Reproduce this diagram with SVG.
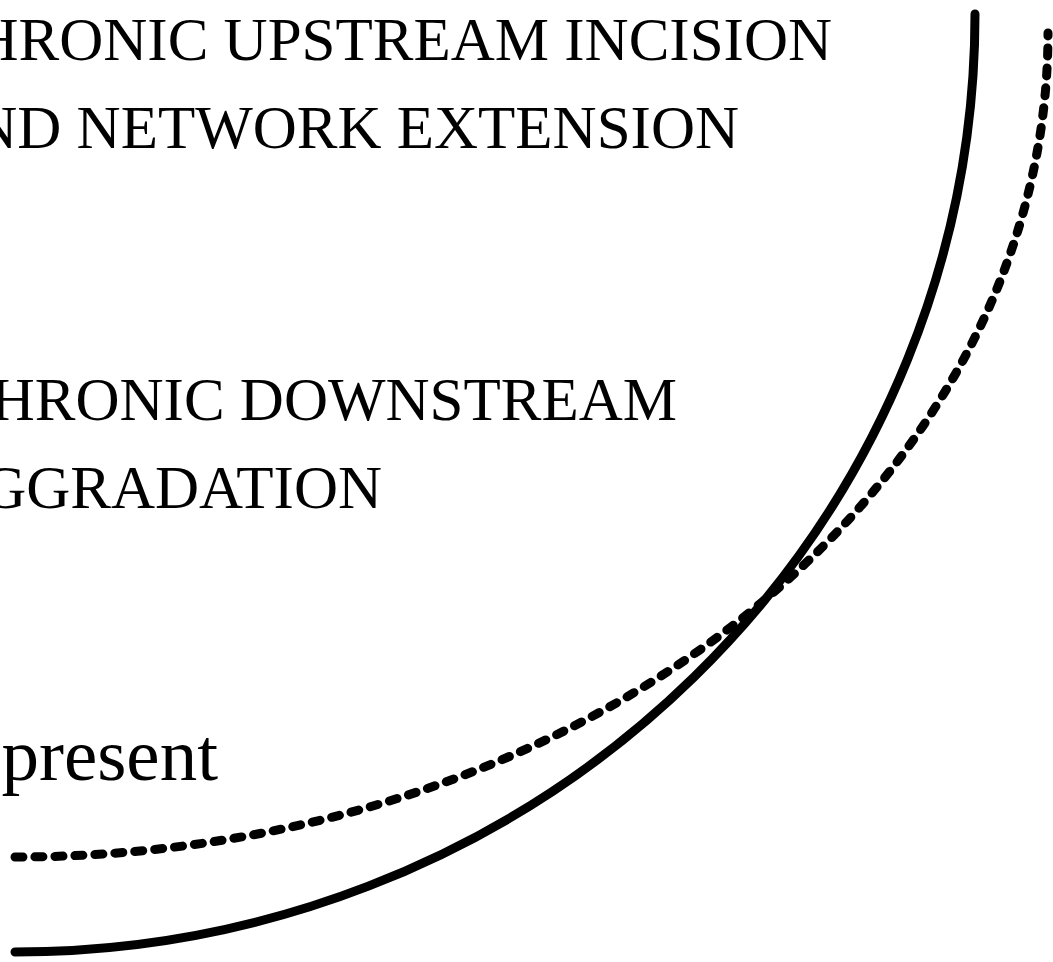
<svg xmlns="http://www.w3.org/2000/svg" width="1053" height="962" viewBox="0 0 1053 962">
<style>
.t{font-family:"Liberation Serif","Times New Roman",serif;fill:#000;text-anchor:end}
.s{fill:none;stroke:#000;stroke-width:9;stroke-linecap:round}
.d{fill:none;stroke:#000;stroke-width:9;stroke-linecap:round;stroke-dasharray:8 12}
</style>
<rect width="1053" height="962" fill="#fff"/>
<g id="labels">
<text class="t" x="832" y="60" font-size="61">HRONIC UPSTREAM INCISION</text>
<text class="t" x="739" y="148" font-size="61">ND NETWORK EXTENSION</text>
<text class="t" x="677" y="420" font-size="61">HRONIC DOWNSTREAM</text>
<text class="t" x="382" y="508" font-size="61">GGRADATION</text>
<text class="t" x="218" y="780" font-size="75">present</text>
</g>
<g id="curves">
<path class="s" d="M 975 14 A 960 938 0 0 1 15 952"/>
<path class="d" d="M 15 857 A 1033 824 0 0 0 1048 33"/>
</g>
</svg>
